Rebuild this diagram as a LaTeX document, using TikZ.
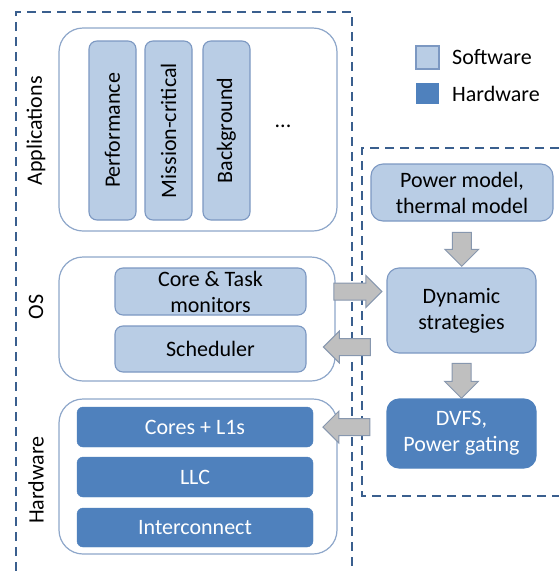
\documentclass[tikz,border=0pt]{standalone}
\usepackage{fontspec}
\setmainfont{Carlito}
\usetikzlibrary{shapes.arrows,calc}

\definecolor{swfill}{HTML}{B9CDE5}
\definecolor{swline}{HTML}{7C98C2}
\definecolor{hwfill}{HTML}{4F81BD}
\definecolor{layerline}{HTML}{8EA7CA}
\definecolor{zoneline}{HTML}{3A5F8E}
\definecolor{arrowfill}{HTML}{BFBFBF}
\definecolor{arrowline}{HTML}{8797AE}

\tikzset{
  txt/.style={font=\fontsize{22}{26}\selectfont, inner sep=0pt, align=center},
  layer/.style={draw=layerline, line width=1.2pt, fill=white, rounded corners=24pt, inner sep=0pt},
  swbox/.style={txt, draw=swline, line width=1.1pt, fill=swfill, rounded corners=8pt},
  hwbox/.style={txt, draw=hwfill, fill=hwfill, rounded corners=6pt, text=white},
  stratbox/.style={swbox, rounded corners=12pt},
  zone/.style={draw=zoneline, line width=2pt, dash pattern=on 9pt off 6pt},
  fatarrow/.style={single arrow, draw=arrowline, fill=arrowfill, line width=1pt,
    inner sep=0pt, inner ysep=8pt, single arrow head extend=7.5pt},
}

\begin{document}
\begin{tikzpicture}[x=1pt, y=-1pt]
  \useasboundingbox (0,0) rectangle (559,571);

  % dashed zones
  \draw[zone] (16,571) -- (16,12) -- (352,12) -- (352,571);
  \draw[zone] (559,148) -- (362,148) -- (362,496) -- (559,496);

  % applications
  \node[layer, minimum width=278pt, minimum height=203pt] (apps) at (198,129.5) {};
  \node[txt, rotate=90] (appslbl) at (36,131) {Applications};
  \node[swbox, rotate=90, minimum width=179pt, minimum height=47pt] (perf) at (112.5,130.5) {Performance};
  \node[swbox, rotate=90, minimum width=179pt, minimum height=47pt] (crit) at (168.5,130.5) {Mission-critical};
  \node[swbox, rotate=90, minimum width=179pt, minimum height=47pt] (bg) at (226.5,130.5) {Background};
  \node[txt] (more) at (283,126) {...};

  % OS
  \node[layer, minimum width=276pt, minimum height=124pt] (os) at (197,319) {};
  \node[txt, rotate=90] (oslbl) at (36,307) {OS};
  \node[swbox, minimum width=191pt, minimum height=47pt] (mon) at (210.5,291.5) {Core \& Task\\monitors};
  \node[swbox, minimum width=191pt, minimum height=46pt] (sch) at (210.5,349) {Scheduler};

  % hardware
  \node[layer, minimum width=278pt, minimum height=155pt] (hw) at (198,476.5) {};
  \node[txt, rotate=90] (hwlbl) at (36,480) {Hardware};
  \node[hwbox, minimum width=236pt, minimum height=40pt] (cores) at (195,427) {Cores + L1s};
  \node[hwbox, minimum width=236pt, minimum height=40pt] (llc) at (195,477) {LLC};
  \node[hwbox, minimum width=236pt, minimum height=39pt] (noc) at (195,527.5) {Interconnect};

  % dynamic management
  \node[stratbox, minimum width=182pt, minimum height=57pt] (pm) at (462,192.5) {Power model,\\thermal model};
  \node[stratbox, minimum width=149pt, minimum height=85pt] (ds) at (461.5,310.5) {Dynamic\\strategies};
  \node[stratbox, draw=hwfill, fill=hwfill, text=white, minimum width=149pt, minimum height=69pt] (dvfs) at (461.5,433.5) {DVFS,\\Power gating};

  % block arrows
  \node[fatarrow, rotate=-90, inner ysep=9pt, minimum height=34pt] (a1) at ($(pm.south)!0.5!(ds.north)$) {};
  \node[fatarrow, rotate=-90, inner ysep=9pt, minimum height=35pt] (a2) at ($(ds.south)!0.5!(dvfs.north)$) {};
  \node[fatarrow, minimum height=48pt] (a3) at ($(mon.east)+(47,0)$) {};
  \node[fatarrow, rotate=180, minimum height=47pt] (a4) at ($(sch.east)+(44.5,-2)$) {};
  \node[fatarrow, rotate=180, minimum height=47pt] (a5) at ($(cores.east)+(37.5,0)$) {};

  % legend
  \node[draw=swline, line width=1.1pt, fill=swfill, minimum size=23pt, inner sep=0pt] (swkey) at (427.5,57.5) {};
  \node[fill=hwfill, minimum width=23pt, minimum height=21pt, inner sep=0pt] (hwkey) at (427.5,93.5) {};
  \node[txt, anchor=west] (swtxt) at (452,57.5) {Software};
  \node[txt, anchor=west] (hwtxt) at (452,94) {Hardware};
\end{tikzpicture}
\end{document}
